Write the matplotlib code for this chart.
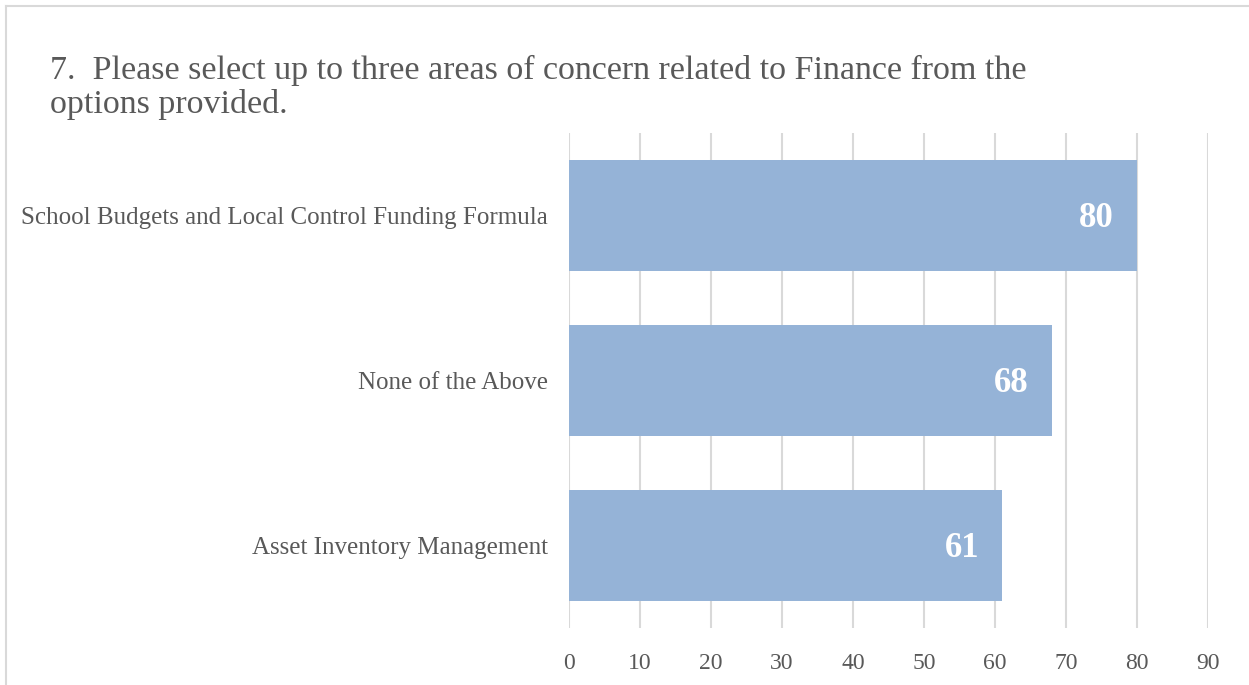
import matplotlib
matplotlib.use("Agg")
import matplotlib.pyplot as plt
from matplotlib.lines import Line2D

# Survey responses (top to bottom as displayed)
categories = [
    "School Budgets and Local Control Funding Formula",
    "None of the Above",
    "Asset Inventory Management",
]
counts = [80, 68, 61]
x_ticks = [0, 10, 20, 30, 40, 50, 60, 70, 80, 90]

title_lines = [
    "7.  Please select up to three areas of concern related to Finance from the",
    "options provided.",
]

W, H = 1249, 685
fig = plt.figure(figsize=(W / 100, H / 100), dpi=100)
fig.patch.set_facecolor("white")

serif = ["Liberation Serif", "DejaVu Serif"]
text_gray = "#595959"
grid_gray = "#D9D9D9"
bar_color = "#95B3D7"

# plot area in figure pixels
left, right = 569, 1208
top, bottom = 133, 628
ax = fig.add_axes([left / W, 1 - bottom / H, (right - left) / W, (bottom - top) / H])

ypos = list(range(len(categories)))
ax.barh(ypos, counts, height=0.667, color=bar_color, zorder=3)
ax.set_ylim(len(categories) - 0.5, -0.5)
ax.set_xlim(0, 90)

ax.set_xticks(x_ticks)
ax.set_xticklabels([str(t) for t in x_ticks], fontfamily=serif, fontsize=17, color=text_gray)
ax.set_yticks(ypos)
ax.set_yticklabels(categories, fontfamily=serif, fontsize=18, color=text_gray)
ax.tick_params(axis="x", length=0, pad=18)
ax.tick_params(axis="y", length=0, pad=15)

ax.xaxis.grid(True, color=grid_gray, linewidth=1.5, zorder=0)
ax.yaxis.grid(False)
for s in ax.spines.values():
    s.set_visible(False)

# value labels inside bar ends
for y, v in zip(ypos, counts):
    ax.annotate(str(v), xy=(v, y), xytext=(-23, -3), textcoords="offset pixels",
                ha="right", va="center", fontfamily=serif, fontsize=25,
                fontweight="bold", color="white", zorder=4)

# two-line title
for baseline_px, line in zip([79, 113], title_lines):
    fig.text(50 / W, 1 - baseline_px / H, line, ha="left", va="baseline",
             fontfamily=serif, fontsize=24.5, color=text_gray)

# chart frame (top and left edges)
fig.add_artist(Line2D([5.5 / W, 1248 / W], [1 - 5.5 / H, 1 - 5.5 / H],
                      transform=fig.transFigure, color=grid_gray, linewidth=1.5))
fig.add_artist(Line2D([5.5 / W, 5.5 / W], [1 - 5.5 / H, 0],
                      transform=fig.transFigure, color=grid_gray, linewidth=1.5))

fig.savefig("out.png", dpi=100, facecolor="white")
